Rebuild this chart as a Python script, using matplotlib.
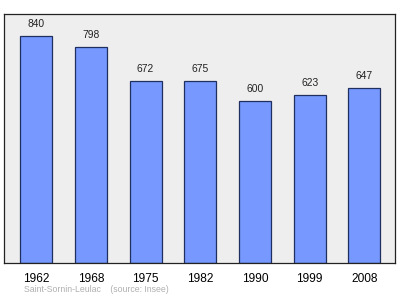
import matplotlib.pyplot as plt

plt.rcParams['font.family'] = ['Liberation Sans', 'DejaVu Sans']

years = ['1962', '1968', '1975', '1982', '1990', '1999', '2008']
population = [840, 798, 672, 675, 600, 623, 647]
source = 'Saint-Sornin-Leulac    (source: Insee)'

fig = plt.figure(figsize=(4, 2.99), dpi=100)
ax = fig.add_axes([0.011, 0.1194, 0.9775, 0.8354])
ax.set_facecolor('#eeeeee')

pos = range(len(years))
bars = ax.bar(pos, population, width=0.585, color='#7799ff',
              edgecolor='#1f2f5f', linewidth=0.9)

for x, v in zip(pos, population):
    ax.annotate(str(v), (x, v), xytext=(0, 5), textcoords='offset points',
                ha='center', va='bottom', fontsize=7.4, color='#222222')

ax.set_xlim(-0.58, 6.567)
ax.set_ylim(0, 923)
ax.set_yticks([])
ax.set_xticks(list(pos))
ax.set_xticklabels(years, fontsize=8.6)
ax.tick_params(axis='x', length=0, pad=7)
for s in ax.spines.values():
    s.set_color('#222222')
    s.set_linewidth(0.9)

fig.text(0.06, 0.025, source, fontsize=6.3, color='#b0b0b0')

fig.savefig('out.png')
